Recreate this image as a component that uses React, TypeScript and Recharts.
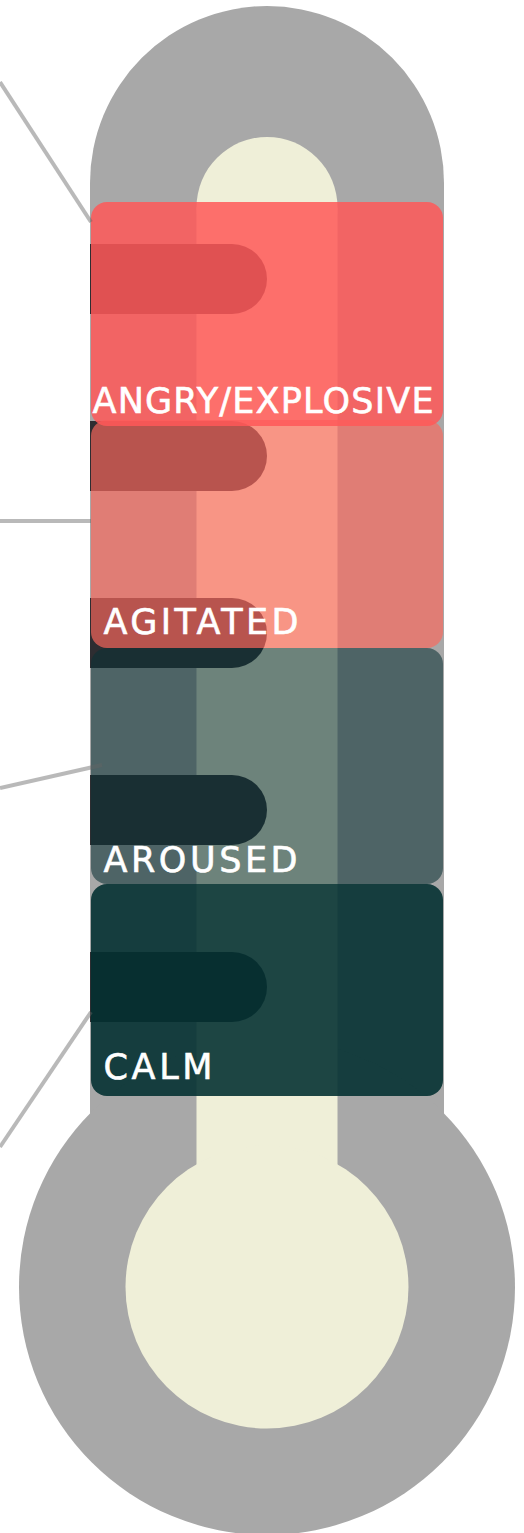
import { BarChart, Bar, XAxis, YAxis } from 'recharts'

// levels from the bulb upward, spans in thermometer units (1 unit = 1px here)
const LEVELS = ['CALM', 'AROUSED', 'AGITATED', 'ANGRY/EXPLOSIVE']
const LEVEL_SPANS = [212, 236, 222, 224]
const LEVEL_FLOOR = 437
const SCALE_MARKS = [546, 723, 900, 1077, 1254]
const Y_MAX = 1533

const DATA = [
  Object.fromEntries([
    ['name', 'thermometer'],
    ['floor', LEVEL_FLOOR],
    ...LEVELS.map((_, i) => [`level${i}`, LEVEL_SPANS[i]]),
  ]),
]

const GRAY = '#A8A8A8'
const CREAM = '#EFEFD8'
const MARK = '#2E2D31'

// outer tube / bulb and inner cream column, in thermometer units
const THERMO = {
  outerPad: 1,
  outerTop: 1527,
  bulbCenter: 246,
  bulbR: 248,
  innerHalf: 70.5,
  innerTop: 1396,
  innerBulbR: 141.5,
  markH: 70,
}

const LEVEL_STYLE = [
  { fill: '#022F30', opacity: 0.89, extend: 0, labelDx: 12.5, labelDy: -17, textLength: 109, leader: [263, 0, 128] },
  { fill: '#0A3134', opacity: 0.57, extend: 0, labelDx: 12.5, labelDy: -12, textLength: 194, leader: [140, 11, 117] },
  { fill: '#FC685D', opacity: 0.67, extend: 6, labelDx: 12.5, labelDy: -14, textLength: 195, leader: [95, 0, 95] },
  { fill: '#FF5858', opacity: 0.85, extend: 0, labelDx: 1.5, labelDy: -13, textLength: 341, leader: [-120, 0, 20] },
]

function Thermometer(props: any) {
  const { x, width, y: top, height } = props
  const cx = x + width / 2
  const toY = (v: number) => top + height * (1 - v / Y_MAX)
  const outerR = width / 2 + THERMO.outerPad
  const outerTopY = toY(THERMO.outerTop) + outerR
  const bulbY = toY(THERMO.bulbCenter)
  const innerTopY = toY(THERMO.innerTop) + THERMO.innerHalf
  const r = THERMO.markH / 2
  return (
    <g>
      <circle cx={cx} cy={outerTopY} r={outerR} fill={GRAY} />
      <rect x={cx - outerR} y={outerTopY} width={outerR * 2} height={bulbY - outerTopY} fill={GRAY} />
      <circle cx={cx} cy={bulbY} r={THERMO.bulbR} fill={GRAY} />
      <circle cx={cx} cy={innerTopY} r={THERMO.innerHalf} fill={CREAM} />
      <rect x={cx - THERMO.innerHalf} y={innerTopY} width={THERMO.innerHalf * 2} height={bulbY - innerTopY} fill={CREAM} />
      <circle cx={cx} cy={bulbY} r={THERMO.innerBulbR} fill={CREAM} />
      {SCALE_MARKS.map((m) => {
        const my = toY(m)
        const left = cx - outerR
        return (
          <path
            key={m}
            d={`M${left},${my - r} H${cx - r} A${r},${r} 0 0 1 ${cx - r},${my + r} H${left} Z`}
            fill={MARK}
          />
        )
      })}
    </g>
  )
}

function LevelShape(props: any) {
  const { x, y, width, height, idx } = props
  const s = LEVEL_STYLE[idx]
  const top = y - s.extend
  const [startDy, endDx, endDy] = s.leader
  return (
    <g>
      <rect x={x} y={top} width={width} height={height + s.extend} rx={16} ry={16} fill={s.fill} fillOpacity={s.opacity} />
      <line x1={0} y1={y + startDy} x2={x + endDx} y2={y + endDy} stroke="#646464" strokeOpacity={0.45} strokeWidth={4} />
      <text
        x={x + s.labelDx}
        y={y + height + s.labelDy}
        fill="#FFFFFF"
        stroke="#FFFFFF"
        strokeWidth={0.6}
        fontFamily="'DejaVu Sans', sans-serif"
        fontSize={35}
        textLength={s.textLength}
        lengthAdjust="spacing"
      >
        {LEVELS[idx]}
      </text>
    </g>
  )
}

export default function App() {
  return (
    <div style={{ position: 'absolute', left: 0, top: 0 }}>
      <BarChart width={524} height={1533} data={DATA} margin={{ top: 0, right: 0, bottom: 0, left: 9 }} barSize={352}>
        <XAxis dataKey="name" hide />
        <YAxis type="number" domain={[0, Y_MAX]} hide />
        <Bar
          dataKey="floor"
          stackId="t"
          fill="none"
          isAnimationActive={false}
          background={(p: any) => <Thermometer {...p} />}
        />
        {LEVELS.map((l, i) => (
          <Bar
            key={l}
            dataKey={`level${i}`}
            name={l}
            stackId="t"
            isAnimationActive={false}
            shape={(p: any) => <LevelShape {...p} idx={i} />}
          />
        ))}
      </BarChart>
    </div>
  )
}
